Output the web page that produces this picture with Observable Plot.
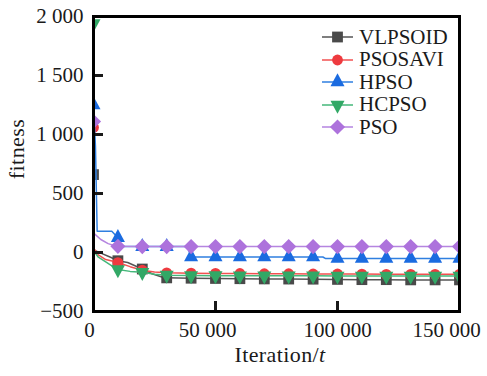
<!DOCTYPE html>
<html><head><meta charset="utf-8">
<script src="https://cdn.jsdelivr.net/npm/d3@7"></script>
<script src="https://cdn.jsdelivr.net/npm/@observablehq/plot@0.6"></script>
<style>
body{margin:0;background:#fff;}
#wrap{position:relative;width:487px;height:376px;font-family:"Liberation Serif","Times New Roman",serif;color:#1a1a1a;}
.lab{position:absolute;white-space:nowrap;font-size:22px;line-height:1;letter-spacing:0.4px;}
#legend{position:absolute;left:322px;top:26px;font-size:21px;}
.row{display:flex;align-items:center;height:22.5px;}
.row svg{margin-right:5px;}
</style></head><body><div id="wrap"></div>
<script>
// ---- data ----
const seriesNames = ["VLPSOID", "PSOSAVI", "HPSO", "HCPSO", "PSO"];
const vlpsoidIter = [0, 300, 3000, 7000, 10000, 14000, 20000, 24000, 28000, 30000, 40000, 50000, 60000, 70000, 80000, 90000, 100000, 110000, 120000, 130000, 140000, 150000];
const vlpsoidFit  = [660, 20, -5, -40, -70, -85, -140, -180, -208, -215, -218, -220, -222, -224, -225, -226, -228, -230, -230, -232, -232, -232];
const psosaviIter = [0, 300, 2000, 5000, 8000, 10000, 15000, 20000, 25000, 30000, 40000, 50000, 60000, 70000, 80000, 90000, 100000, 110000, 120000, 130000, 140000, 150000];
const psosaviFit  = [1060, 30, -20, -60, -75, -85, -120, -150, -165, -172, -175, -177, -178, -180, -180, -182, -182, -183, -185, -185, -185, -185];
const hpsoIter = [0, 800, 1500, 7500, 10000, 11500, 20000, 30000, 38500, 40000, 50000, 60000, 70000, 80000, 90000, 94000, 95000, 100000, 110000, 120000, 130000, 140000, 150000];
const hpsoFit  = [1250, 900, 180, 180, 125, 50, 50, 50, 50, -38, -38, -38, -38, -38, -38, -38, -50, -50, -50, -50, -50, -50, -50];
const hcpsoIter = [0, 200, 2000, 5000, 8000, 10000, 15000, 20000, 25000, 30000, 40000, 50000, 60000, 70000, 80000, 90000, 100000, 110000, 120000, 130000, 140000, 150000];
const hcpsoFit  = [1940, 10, -40, -80, -120, -145, -160, -168, -185, -192, -195, -196, -197, -197, -198, -198, -199, -199, -200, -200, -200, -200];
const psoIter = [0, 300, 3000, 6000, 9000, 10000, 20000, 30000, 40000, 50000, 60000, 70000, 80000, 90000, 100000, 110000, 120000, 130000, 140000, 150000];
const psoFit  = [1110, 160, 110, 75, 55, 52, 50, 50, 50, 50, 50, 50, 50, 50, 50, 50, 50, 50, 50, 50];
const xTicks = [0, 50000, 100000, 150000];
const yTicks = [-500, 0, 500, 1000, 1500, 2000];

// ---- symbols ----
const rad = s => Math.sqrt(s / Math.PI);
const symSquare = {draw(c, s) { const r = rad(s); c.rect(-r, -r, 2 * r, 2 * r); }};
const symCircle = {draw(c, s) { const r = rad(s); c.moveTo(r, 0); c.arc(0, 0, r, 0, 2 * Math.PI); }};
const symUp = {draw(c, s) { const r = rad(s); c.moveTo(0, -1.6 * r); c.lineTo(1.3 * r, 0.8 * r); c.lineTo(-1.3 * r, 0.8 * r); c.closePath(); }};
const symDown = {draw(c, s) { const r = rad(s); c.moveTo(0, 1.6 * r); c.lineTo(1.3 * r, -0.8 * r); c.lineTo(-1.3 * r, -0.8 * r); c.closePath(); }};
const symDiamond = {draw(c, s) { const r = rad(s) * 1.4; c.moveTo(0, -r); c.lineTo(r, 0); c.lineTo(0, r); c.lineTo(-r, 0); c.closePath(); }};

const styles = [
  {line: "#555555", fill: "#4a4a4a", sym: symSquare},
  {line: "#f25050", fill: "#ee3a3f", sym: symCircle},
  {line: "#2f7fe0", fill: "#1b6be0", sym: symUp},
  {line: "#45b77a", fill: "#32a866", sym: symDown},
  {line: "#b585e0", fill: "#ad72dc", sym: symDiamond}
];
const iters = [vlpsoidIter, psosaviIter, hpsoIter, hcpsoIter, psoIter];
const fits = [vlpsoidFit, psosaviFit, hpsoFit, hcpsoFit, psoFit];
const series = seriesNames.map((name, k) => ({
  name, style: styles[k],
  data: iters[k].map((t, i) => ({t, f: fits[k][i]}))
}));

const loc = d3.formatLocale({decimal: ".", thousands: "\u2009", grouping: [3], currency: ["", ""], minus: "\u2212"});
const fmt = d => loc.format(",d")(d).replace("\u2009", " ");

const marks = [];
for (const s of series) {
  marks.push(Plot.line(s.data, {x: "t", y: "f", stroke: s.style.line, strokeWidth: 1.5, clip: true}));
  marks.push(Plot.dot(s.data.filter(d => d.t % 10000 === 0), {x: "t", y: "f", symbol: s.style.sym, r: 5.4, fill: s.style.fill, stroke: "none", clip: true}));
}

// per-label horizontal nudges of the x tick labels, as in the reference
const xLabelShift = [-4, -8, 0, -13];
const SERIF = "'Liberation Serif','Times New Roman',serif";

const chart = Plot.plot({
  width: 487, height: 376,
  marginLeft: 93, marginRight: 28, marginTop: 16, marginBottom: 65,
  style: `font-family:${SERIF};font-size:21px;color:#1a1a1a;background:transparent;overflow:visible;`,
  x: {domain: [0, 150000]},
  y: {domain: [-500, 2000]},
  marks: [
    ...marks,
    ...xTicks.map((t, i) => Plot.axisX([t], {tickSize: 0, tickPadding: 11, tickFormat: fmt, label: null, dx: xLabelShift[i], fontFamily: SERIF})),
    Plot.axisY(yTicks, {tickSize: 0, tickPadding: 10, tickFormat: fmt, label: null, fontFamily: SERIF}),
    Plot.axisX(xTicks, {tickSize: -10, strokeWidth: 3, tickFormat: () => "", label: null}),
    Plot.axisY(yTicks, {tickSize: -10, strokeWidth: 3, tickFormat: () => "", label: null}),
    Plot.frame({stroke: "#000", strokeWidth: 3})
  ]
});

d3.select(chart).selectAll("text")
  .attr("font-family", SERIF)
  .style("font-family", SERIF)
  .style("font-size", "21px");

const wrap = document.getElementById("wrap");
wrap.appendChild(chart);

const xl = document.createElement("div");
xl.className = "lab";
xl.innerHTML = "Iteration/<i>t</i>";
xl.style.left = "280px"; xl.style.top = "355px"; xl.style.transform = "translate(-50%,-50%)";
wrap.appendChild(xl);

const yl = document.createElement("div");
yl.className = "lab";
yl.textContent = "fitness";
yl.style.left = "17px"; yl.style.top = "149px"; yl.style.transform = "translate(-50%,-50%) rotate(-90deg)";
wrap.appendChild(yl);

// legend
const leg = d3.select(wrap).append("div").attr("id", "legend");
for (const s of series) {
  const row = leg.append("div").attr("class", "row");
  const sv = row.append("svg").attr("width", 32).attr("height", 20);
  sv.append("line").attr("x1", 0).attr("x2", 31).attr("y1", 10).attr("y2", 10).attr("stroke", s.style.line).attr("stroke-width", 1.5);
  const p = d3.path();
  s.style.sym.draw(p, 5.4 * 5.4 * Math.PI);
  sv.append("path").attr("d", p.toString()).attr("transform", "translate(15.5,10)").attr("fill", s.style.fill);
  row.append("span").text(s.name);
}
</script></body></html>
